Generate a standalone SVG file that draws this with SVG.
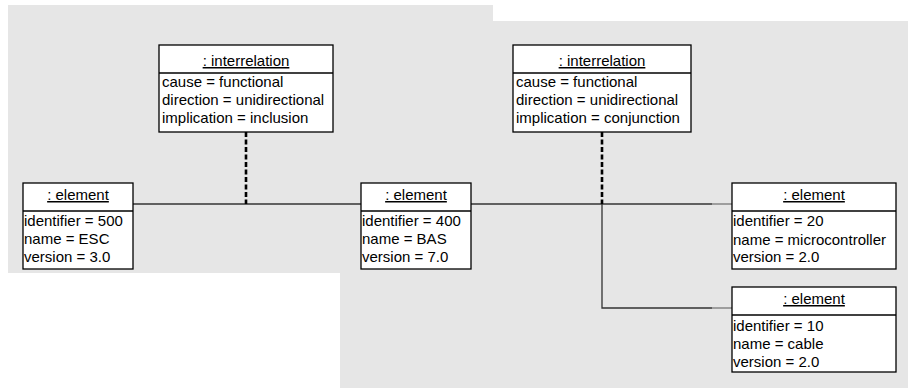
<svg xmlns="http://www.w3.org/2000/svg" width="908" height="388" viewBox="0 0 908 388">
<style>
.bg{fill:#e6e6e6;stroke:none}
.box{fill:#ffffff;stroke:#000000;stroke-width:1.3}
.sep{stroke:#000000;stroke-width:1.3}
text{font-family:"Liberation Sans",Arial,sans-serif;font-size:15px;fill:#000000}
.title{text-anchor:middle;text-decoration:underline}
.link{stroke:#333333;stroke-width:1.3;fill:none}
.link2{stroke:#777777;stroke-width:1.3;fill:none}
.dash{stroke:#000000;stroke-width:2.6;stroke-dasharray:5 2.5;fill:none}
</style>
<rect width="908" height="388" fill="#ffffff"/>
<rect class="bg" x="8" y="5" width="485" height="268"/>
<rect class="bg" x="340" y="21" width="568" height="367"/>
<g id="connectors">
<line class="link" x1="133" y1="204" x2="361" y2="204"/>
<line class="link" x1="471" y1="204" x2="712" y2="204"/>
<line class="link2" x1="712" y1="204" x2="732" y2="204"/>
<polyline class="link" points="602,204 602,308 712,308"/>
<line class="link2" x1="712" y1="308" x2="732" y2="308"/>
<line class="dash" x1="246" y1="132" x2="246" y2="204"/>
<line class="dash" x1="602" y1="132" x2="602" y2="204"/>
</g>
<g id="interrelation1">
<rect class="box" x="159" y="45" width="174" height="87"/>
<line class="sep" x1="159" y1="73" x2="333" y2="73"/>
<text class="title" x="246" y="66">: interrelation</text>
<text x="162" y="87">cause = functional</text>
<text x="162" y="105">direction = unidirectional</text>
<text x="162" y="123">implication = inclusion</text>
</g>
<g id="interrelation2">
<rect class="box" x="513" y="45" width="178" height="87"/>
<line class="sep" x1="513" y1="73" x2="691" y2="73"/>
<text class="title" x="602" y="66">: interrelation</text>
<text x="516" y="87">cause = functional</text>
<text x="516" y="105">direction = unidirectional</text>
<text x="516" y="123">implication = conjunction</text>
</g>
<g id="element-esc">
<rect class="box" x="23" y="183" width="110" height="86"/>
<line class="sep" x1="23" y1="211" x2="133" y2="211"/>
<text class="title" x="78" y="200">: element</text>
<text x="24" y="226">identifier  = 500</text>
<text x="24" y="244">name = ESC</text>
<text x="24" y="262">version = 3.0</text>
</g>
<g id="element-bas">
<rect class="box" x="361" y="183" width="110" height="86"/>
<line class="sep" x1="361" y1="211" x2="471" y2="211"/>
<text class="title" x="416" y="200">: element</text>
<text x="362" y="226">identifier  = 400</text>
<text x="362" y="244">name = BAS</text>
<text x="362" y="262">version = 7.0</text>
</g>
<g id="element-microcontroller">
<rect class="box" x="732" y="183" width="164" height="86"/>
<line class="sep" x1="732" y1="211" x2="896" y2="211"/>
<text class="title" x="814" y="200">: element</text>
<text x="733" y="226">identifier  = 20</text>
<text x="733" y="245">name = microcontroller</text>
<text x="733" y="262">version  = 2.0</text>
</g>
<g id="element-cable">
<rect class="box" x="732" y="287" width="164" height="85"/>
<line class="sep" x1="732" y1="315" x2="896" y2="315"/>
<text class="title" x="814" y="304">: element</text>
<text x="733" y="331">identifier = 10</text>
<text x="733" y="349">name = cable</text>
<text x="733" y="367">version = 2.0</text>
</g>
</svg>
